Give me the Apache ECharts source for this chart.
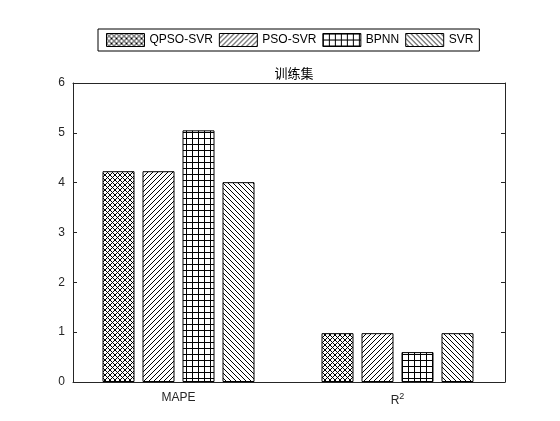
<!DOCTYPE html>
<html>
<head>
<meta charset="utf-8">
<script src="https://cdn.jsdelivr.net/npm/echarts@6/dist/echarts.min.js"></script>
<style>html,body{margin:0;padding:0;background:#fff;}#c{width:560px;height:421px;}</style>
</head>
<body>
<div id="c"></div>
<script>
const categories = ['MAPE', 'R2'];
const seriesNames = ['QPSO-SVR', 'PSO-SVR', 'BPNN', 'SVR'];
const qpsoSvr = [4.23, 0.98];
const psoSvr = [4.23, 0.98];
const bpnn = [5.05, 0.60];
const svr = [4.01, 0.98];
const yTicks = [0, 1, 2, 3, 4, 5, 6];

function makePattern(type) {
  const n = type === 'grid' ? 6 : 5;
  const c = document.createElement('canvas');
  c.width = n; c.height = n;
  const ctx = c.getContext('2d');
  ctx.fillStyle = '#fff';
  ctx.fillRect(0, 0, n, n);
  ctx.fillStyle = '#000';
  for (let i = 0; i < n; i++) {
    if (type === 'cross') { ctx.fillRect(i, i, 1, 1); ctx.fillRect(i, n - 1 - i, 1, 1); }
    else if (type === 'slash') { ctx.fillRect(i, n - 1 - i, 1, 1); }
    else if (type === 'back') { ctx.fillRect(i, i, 1, 1); }
    else if (type === 'grid') { ctx.fillRect(i, 0, 1, 1); ctx.fillRect(0, i, 1, 1); }
  }
  return { image: c, repeat: 'repeat' };
}
const patterns = [makePattern('cross'), makePattern('slash'), makePattern('grid'), makePattern('back')];
const dataSets = [qpsoSvr, psoSvr, bpnn, svr];

const chart = echarts.init(document.getElementById('c'), null, { renderer: 'canvas' });
const axisColor = '#262626';
const font = 'Liberation Sans';
chart.setOption({
  animation: false,
  backgroundColor: '#fff',
  title: {
    text: '训练集', left: 289, top: 62, textAlign: 'center',
    textStyle: { fontSize: 13, fontWeight: 'normal', color: '#000', fontFamily: 'Noto Sans CJK SC' }
  },
  legend: {
    left: 98, top: 29, icon: 'rect', itemWidth: 38, itemHeight: 13, itemGap: 6,
    padding: [4, 6, 4, 8],
    borderColor: '#000', borderWidth: 1,
    itemStyle: { borderColor: '#000', borderWidth: 1 },
    textStyle: { fontSize: 12, color: '#000', fontFamily: font },
    data: seriesNames
  },
  grid: [
    { left: 73, right: 55, top: 83, bottom: 39 },
    { left: 69, right: 53, top: 83, bottom: 39 }
  ],
  xAxis: [{
    gridIndex: 0, type: 'category', data: categories, position: 'bottom',
    axisLine: { onZero: false, lineStyle: { color: axisColor } },
    axisTick: { show: false }, axisLabel: { show: false }
  }, {
    gridIndex: 0, type: 'category', data: categories, position: 'top',
    axisLine: { onZero: false, lineStyle: { color: axisColor } },
    axisTick: { show: false }, axisLabel: { show: false }
  }, {
    gridIndex: 1, type: 'category', data: categories, position: 'bottom',
    axisLine: { show: false, onZero: false },
    axisTick: { alignWithLabel: true, inside: true, length: 4, lineStyle: { color: axisColor } },
    axisLabel: {
      margin: 10, fontSize: 12, color: axisColor, fontFamily: font,
      formatter: v => v === 'R2' ? 'R{sup|2}' : v,
      rich: { sup: { fontSize: 9, verticalAlign: 'top', padding: [0, 0, 9, 0], color: axisColor, fontFamily: font } }
    }
  }, {
    gridIndex: 1, type: 'category', data: categories, position: 'top',
    axisLine: { show: false, onZero: false },
    axisTick: { alignWithLabel: true, inside: true, length: 4, lineStyle: { color: axisColor } },
    axisLabel: { show: false }
  }],
  yAxis: [{
    gridIndex: 0, type: 'value', min: 0, max: 6, interval: 1, position: 'left',
    axisLine: { show: true, lineStyle: { color: axisColor } },
    axisTick: { show: true, inside: true, length: 4, lineStyle: { color: axisColor } },
    axisLabel: { margin: 8, fontSize: 12, color: axisColor, fontFamily: font,
      formatter: v => yTicks.includes(v) ? String(v) : '' },
    splitLine: { show: false }
  }, {
    gridIndex: 0, type: 'value', min: 0, max: 6, interval: 1, position: 'right',
    axisLine: { show: true, lineStyle: { color: axisColor } },
    axisTick: { show: true, inside: true, length: 4, lineStyle: { color: axisColor } },
    axisLabel: { show: false },
    splitLine: { show: false }
  }, {
    gridIndex: 1, type: 'value', min: 0, max: 6, interval: 1, show: false
  }],
  series: seriesNames.map((name, i) => ({
    name, type: 'bar', data: dataSets[i], barWidth: 32, barGap: '25%',
    xAxisIndex: 2, yAxisIndex: 2,
    itemStyle: { color: patterns[i], borderColor: '#000', borderWidth: 1 }
  }))
});
</script>
</body>
</html>
